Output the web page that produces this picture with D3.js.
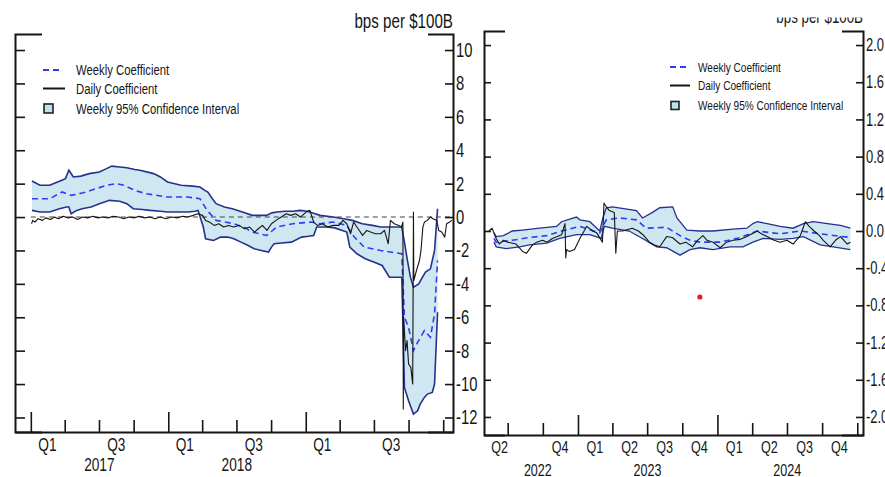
<!DOCTYPE html>
<html>
<head>
<meta charset="utf-8">
<script src="https://cdn.jsdelivr.net/npm/d3@7"></script>
<style>
body{margin:0;background:#fff}
svg{display:block;font-family:"Liberation Sans",Arial,sans-serif}
</style>
</head>
<body>
<div id="chart"></div>
<script>
// ---------- left panel data (2017-2019) ----------
const ciHiL = [
["2017-01-04",2.16],["2017-01-25",1.9],["2017-02-20",1.9],["2017-03-18",2.15],["2017-04-03",2.3],
["2017-04-12",2.8],["2017-04-24",2.4],["2017-05-14",2.45],["2017-06-05",2.6],["2017-07-02",2.7],
["2017-07-21",2.9],["2017-08-04",3.05],["2017-08-25",3.0],["2017-09-13",2.95],["2017-10-04",2.85],
["2017-10-18",2.8],["2017-11-23",2.6],["2017-12-11",2.4],["2017-12-30",2.1],["2018-02-04",1.9],
["2018-03-07",1.85],["2018-03-26",1.8],["2018-04-08",1.6],["2018-04-16",1.5],["2018-04-28",1.1],
["2018-05-08",0.8],["2018-05-30",0.6],["2018-06-20",0.5],["2018-07-17",0.3],["2018-08-12",0.1],
["2018-09-19",0.1],["2018-10-03",0.25],["2018-10-16",0.3],["2018-11-07",0.35],["2018-11-28",0.35],
["2018-12-17",0.4],["2019-01-05",0.35],["2019-01-26",0.2],["2019-02-08",0.1],["2019-03-15",0.0],
["2019-04-11",-0.1],["2019-05-05",-0.2],["2019-05-31",-0.4],["2019-06-27",-0.5],["2019-07-19",-0.6],
["2019-09-13",-0.6],["2019-09-20",-1.5],["2019-09-28",-2.6],["2019-10-06",-3.6],["2019-10-14",-4.2],
["2019-10-28",-4.0],["2019-11-07",-3.6],["2019-11-15",-3.3],["2019-11-28",-3.1],["2019-12-09",-2.0],
["2019-12-17",0.5]
]
const ciLoL = [
["2017-01-04",0.4],["2017-01-25",0.3],["2017-02-20",0.3],["2017-03-18",0.5],["2017-04-06",0.6],
["2017-04-12",0.6],["2017-04-18",0.2],["2017-05-03",0.4],["2017-05-17",0.5],["2017-06-10",0.6],
["2017-07-02",0.8],["2017-07-29",1.0],["2017-08-25",0.95],["2017-09-13",0.8],["2017-09-30",0.5],
["2017-10-24",0.45],["2017-11-14",0.4],["2017-12-11",0.35],["2017-12-30",0.3],["2018-01-21",0.3],
["2018-02-22",0.3],["2018-03-13",0.35],["2018-03-21",0.4],["2018-04-04",-0.6],["2018-04-10",-1.3],
["2018-05-01",-1.4],["2018-05-20",-1.2],["2018-06-08",-1.2],["2018-06-24",-1.3],["2018-07-13",-1.5],
["2018-08-01",-1.7],["2018-08-17",-1.9],["2018-09-05",-2.0],["2018-09-24",-2.1],["2018-10-02",-1.8],
["2018-10-09",-1.6],["2018-10-28",-1.55],["2018-11-24",-1.5],["2018-12-21",-1.2],["2019-01-08",-1.15],
["2019-01-22",-1.1],["2019-01-30",-0.6],["2019-02-26",-0.6],["2019-03-19",-0.65],["2019-04-20",-0.9],
["2019-04-28",-1.8],["2019-05-17",-2.2],["2019-06-08",-2.5],["2019-07-02",-2.7],["2019-07-23",-2.9],
["2019-08-11",-3.6],["2019-09-13",-3.6],["2019-09-20",-10.2],["2019-10-01",-11.0],["2019-10-14",-11.8],
["2019-10-25",-11.6],["2019-11-01",-11.2],["2019-11-12",-10.8],["2019-11-20",-10.6],["2019-12-03",-10.5],
["2019-12-09",-10.0],["2019-12-17",-5.7]
]
const weeklyL = [
["2017-01-04",1.1],["2017-02-20",1.1],["2017-03-25",1.5],["2017-04-18",1.3],["2017-05-20",1.45],
["2017-06-10",1.6],["2017-07-21",1.9],["2017-08-15",2.0],["2017-09-05",1.9],["2017-10-04",1.6],
["2017-11-03",1.4],["2017-12-30",1.2],["2018-02-20",1.2],["2018-03-26",1.1],["2018-04-14",0.4],
["2018-05-08",-0.2],["2018-06-24",-0.4],["2018-07-20",-0.6],["2018-08-12",-0.9],["2018-09-19",-1.1],
["2018-10-16",-0.6],["2018-11-28",-0.4],["2019-01-15",-0.3],["2019-02-08",-0.4],["2019-03-15",-0.3],
["2019-04-20",-0.5],["2019-05-10",-1.2],["2019-06-05",-1.8],["2019-07-19",-2.0],["2019-09-13",-2.2],
["2019-09-20",-6.0],["2019-10-01",-6.6],["2019-10-14",-8.0],["2019-10-25",-7.5],["2019-11-12",-6.8],
["2019-11-28",-7.2],["2019-12-09",-5.8],["2019-12-17",-2.6]
]
const dailyL = [
["2017-01-03",-0.4],["2017-01-06",-0.2],["2017-01-12",-0.3],["2017-01-20",-0.1],["2017-02-01",-0.2],
["2017-02-10",-0.05],["2017-02-22",-0.15],["2017-03-05",0.0],["2017-03-15",-0.1],["2017-03-28",0.05],
["2017-04-10",-0.05],["2017-04-22",0.0],["2017-05-05",-0.15],["2017-05-18",0.0],["2017-06-01",-0.05],
["2017-06-15",0.05],["2017-06-28",-0.05],["2017-07-10",0.0],["2017-07-25",-0.05],["2017-08-08",0.05],
["2017-08-22",0.0],["2017-09-05",-0.1],["2017-09-18",0.0],["2017-10-02",-0.05],["2017-10-16",0.05],
["2017-10-30",-0.05],["2017-11-13",0.0],["2017-11-27",-0.1],["2017-12-11",0.0],["2017-12-26",-0.1],
["2018-01-10",0.0],["2018-01-25",-0.05],["2018-02-08",0.05],["2018-02-22",0.0],["2018-03-08",0.1],
["2018-03-20",0.2],["2018-04-02",0.1],["2018-04-10",-0.2],["2018-04-20",-0.3],["2018-05-03",-0.5],
["2018-05-15",-0.4],["2018-05-28",-0.6],["2018-06-10",-0.5],["2018-06-24",-0.6],["2018-07-08",-0.5],
["2018-07-22",-0.7],["2018-08-05",-0.6],["2018-08-18",-0.9],["2018-08-28",-0.7],["2018-09-08",-0.5],
["2018-09-20",-0.8],["2018-10-02",-0.4],["2018-10-14",-0.2],["2018-10-28",0.0],["2018-11-10",0.2],
["2018-11-22",0.1],["2018-12-05",0.2],["2018-12-18",0.0],["2019-01-02",0.3],["2019-01-12",0.4],
["2019-01-22",-0.3],["2019-02-01",-0.5],["2019-02-14",-0.4],["2019-02-28",-0.6],["2019-03-15",-0.5],
["2019-03-30",-0.5],["2019-04-10",-0.2],["2019-04-20",-0.4],["2019-04-30",-1.0],["2019-05-08",-0.3],
["2019-05-20",-0.7],["2019-06-01",-1.1],["2019-06-12",-0.8],["2019-06-22",-0.9],["2019-07-05",-1.0],
["2019-07-19",-1.0],["2019-07-29",-0.8],["2019-08-08",-1.6],["2019-08-14",-0.2],["2019-08-24",-0.4],
["2019-09-05",-0.5],["2019-09-12",-0.6],["2019-09-16",-0.3],["2019-09-17",-11.5],["2019-09-18",-6.0],
["2019-09-23",-8.0],["2019-09-27",-7.4],["2019-10-01",-8.8],["2019-10-07",-9.0],["2019-10-12",-10.0],
["2019-10-14",0.3],["2019-10-15",-3.8],["2019-10-22",-3.2],["2019-10-30",-2.6],["2019-11-03",-2.0],
["2019-11-08",-0.6],["2019-11-12",-0.3],["2019-11-20",-0.2],["2019-11-28",0.0],["2019-12-05",-0.1],
["2019-12-15",-0.2],["2019-12-20",-0.8],["2019-12-28",-0.9],["2020-01-05",-1.2],["2020-01-10",-0.4],
["2020-01-18",-0.3],["2020-01-24",-0.2]
]

// ---------- right panel data (2022-2024) ----------
const ciHiR = [
["2022-05-26",-0.02],["2022-06-01",-0.06],["2022-06-20",-0.05],["2022-07-13",0.0],["2022-08-09",0.01],
["2022-09-22",0.03],["2022-11-06",0.05],["2022-11-19",0.1],["2022-12-28",0.15],["2023-01-06",0.12],
["2023-02-01",0.1],["2023-02-27",0.0],["2023-03-08",0.15],["2023-03-16",0.25],["2023-04-01",0.26],
["2023-06-03",0.22],["2023-06-19",0.14],["2023-07-15",0.2],["2023-08-03",0.25],["2023-09-06",0.26],
["2023-09-17",0.14],["2023-10-13",0.01],["2023-11-16",0.0],["2023-12-20",0.0],["2024-02-11",0.02],
["2024-03-18",0.03],["2024-04-03",0.08],["2024-04-14",0.1],["2024-05-10",0.08],["2024-06-13",0.05],
["2024-07-17",0.03],["2024-08-13",0.08],["2024-09-08",0.1],["2024-10-15",0.08],["2024-11-18",0.06],
["2024-12-14",0.03]
]
const ciLoR = [
["2022-05-26",-0.12],["2022-06-01",-0.17],["2022-06-27",-0.19],["2022-08-01",-0.17],["2022-08-27",-0.15],
["2022-10-11",-0.13],["2022-11-14",-0.08],["2022-12-28",-0.04],["2023-02-01",-0.04],["2023-03-03",-0.08],
["2023-03-11",0.05],["2023-04-01",0.03],["2023-05-15",0.0],["2023-06-19",-0.08],["2023-07-26",-0.17],
["2023-08-21",-0.18],["2023-09-25",-0.26],["2023-10-21",-0.2],["2023-11-16",-0.18],["2023-12-20",-0.2],
["2024-02-03",-0.17],["2024-03-08",-0.17],["2024-04-03",-0.12],["2024-04-30",-0.08],["2024-06-13",-0.09],
["2024-07-17",-0.08],["2024-08-13",-0.06],["2024-09-26",-0.15],["2024-10-30",-0.17],["2024-12-14",-0.2]
]
const weeklyR = [
["2022-05-26",-0.08],["2022-06-01",-0.12],["2022-07-13",-0.1],["2022-08-27",-0.07],["2022-10-11",-0.05],
["2022-11-19",0.0],["2023-01-06",0.05],["2023-02-27",-0.02],["2023-03-16",0.12],["2023-04-19",0.14],
["2023-06-03",0.12],["2023-06-29",0.03],["2023-08-21",0.04],["2023-09-25",-0.05],["2023-10-21",-0.1],
["2023-11-16",-0.12],["2024-01-08",-0.12],["2024-03-01",-0.07],["2024-04-14",0.0],["2024-06-13",-0.03],
["2024-08-05",0.0],["2024-09-26",-0.03],["2024-12-14",-0.07]
]
const dailyR = [
["2022-05-13",0.0],["2022-05-21",0.03],["2022-06-01",-0.08],["2022-06-09",-0.14],["2022-06-20",-0.1],
["2022-07-01",-0.12],["2022-07-23",-0.14],["2022-08-09",-0.22],["2022-08-19",-0.24],["2022-09-04",-0.15],
["2022-09-15",-0.12],["2022-09-30",-0.1],["2022-10-12",-0.12],["2022-10-26",-0.08],["2022-11-08",-0.06],
["2022-11-19",-0.04],["2022-11-28",0.08],["2022-11-30",-0.29],["2022-12-02",-0.2],["2022-12-10",-0.22],
["2022-12-23",-0.2],["2023-01-06",-0.08],["2023-01-24",0.05],["2023-02-08",0.0],["2023-02-19",-0.02],
["2023-03-06",-0.12],["2023-03-10",0.3],["2023-03-13",0.28],["2023-03-24",0.22],["2023-04-06",0.2],
["2023-04-10",-0.24],["2023-04-14",0.0],["2023-04-28",0.0],["2023-05-23",0.03],["2023-06-08",0.0],
["2023-06-20",-0.04],["2023-07-07",-0.12],["2023-07-20",-0.15],["2023-08-03",-0.17],["2023-08-21",-0.06],
["2023-09-05",-0.07],["2023-09-25",-0.14],["2023-10-10",-0.12],["2023-10-28",-0.17],["2023-11-10",-0.1],
["2023-11-24",-0.05],["2023-12-05",-0.1],["2023-12-20",-0.12],["2024-01-08",-0.18],["2024-01-25",-0.12],
["2024-02-11",-0.1],["2024-03-01",-0.09],["2024-03-18",-0.06],["2024-04-14",0.0],["2024-04-25",-0.03],
["2024-05-10",-0.06],["2024-05-28",-0.1],["2024-06-13",-0.12],["2024-07-01",-0.1],["2024-07-17",-0.14],
["2024-08-05",-0.05],["2024-08-18",0.1],["2024-08-28",0.05],["2024-09-10",0.0],["2024-09-24",-0.05],
["2024-10-04",-0.1],["2024-10-22",-0.17],["2024-11-05",-0.1],["2024-11-18",-0.06],["2024-12-06",-0.14],
["2024-12-14",-0.12]
]
const outlierR = [["2023-11-16",-0.71]]

// ---------- axes / labels ----------
const yTicksL = [-12,-10,-8,-6,-4,-2,0,2,4,6,8,10]
const yTicksR = [-2.0,-1.6,-1.2,-0.8,-0.4,0.0,0.4,0.8,1.2,1.6,2.0]
const qTicksL = ["2017-01-01","2017-04-01","2017-07-01","2017-10-01","2018-01-01","2018-04-01","2018-07-01",
  "2018-10-01","2019-01-01","2019-04-01","2019-07-01","2019-10-01","2020-01-01"]
const yearTicksL = ["2017-01-01","2018-01-01","2019-01-01"]
const qLabelsL = [["2017-02-14","Q1"],["2017-08-16","Q3"],["2018-02-14","Q1"],["2018-08-16","Q3"],["2019-02-14","Q1"],["2019-08-16","Q3"]]
const yrLabelsL = [["2017-07-02","2017"],["2018-07-02","2018"]]
const qTicksR = ["2022-07-01","2022-10-01","2023-01-01","2023-04-01","2023-07-01","2023-10-01","2024-01-01",
  "2024-04-01","2024-07-01","2024-10-01","2025-01-01"]
const yearTicksR = ["2023-01-01","2024-01-01"]
const qLabelsR = [["2022-06-10","Q2"],["2022-11-15","Q4"],["2023-02-14","Q1"],["2023-05-16","Q2"],["2023-08-16","Q3"],
  ["2023-11-15","Q4"],["2024-02-14","Q1"],["2024-05-16","Q2"],["2024-08-16","Q3"],["2024-11-15","Q4"]]
const yrLabelsR = [["2022-09-18","2022"],["2023-07-02","2023"],["2024-07-02","2024"]]
const legendItems = ["Weekly Coefficient","Daily Coefficient","Weekly 95% Confidence Interval"]

const parse = d3.timeParse("%Y-%m-%d")
const bandFill = "#cfe7f1", bandEdge = "#27308c", weeklyColor = "#2f3cf5", ink = "#151515"
const SQ = 0.74   // narrow type: squeeze text horizontally

function squeeze(sel){
  sel.each(function(){
    const t = d3.select(this)
    const x = +t.attr("x") || 0
    t.attr("x", x/SQ).attr("transform", `scale(${SQ},1)`)
  })
}

const svg = d3.select("#chart").append("svg")
  .attr("width",885).attr("height",477)
svg.append("rect").attr("width",885).attr("height",477).attr("fill","#fff")

function drawPanel(p){
  const x = d3.scaleTime().domain(p.xDomain.map(parse)).range([p.left,p.right])
  const y = d3.scaleLinear().domain(p.yDomain).range([p.bottom,p.top])
  const g = svg.append("g")
  const line = d3.line().x(d=>x(parse(d[0]))).y(d=>y(d[1]))

  // confidence band
  g.append("path")
    .attr("d", line(p.hi.concat(p.lo.slice().reverse())) + "Z")
    .attr("fill",bandFill)
  ;[p.hi,p.lo].forEach(s=>{
    g.append("path").attr("d",line(s)).attr("fill","none")
      .attr("stroke",bandEdge).attr("stroke-width",p.edgeW)
  })

  // zero line
  if(p.zeroFrom){
    g.append("line")
      .attr("x1",x(parse(p.zeroFrom))).attr("x2",p.right)
      .attr("y1",y(0)).attr("y2",y(0))
      .attr("stroke","#444").attr("stroke-width",1.1).attr("stroke-dasharray","5,4")
  }

  // weekly coefficient
  g.append("path").attr("d",line(p.weekly)).attr("fill","none")
    .attr("stroke",weeklyColor).attr("stroke-width",1.6).attr("stroke-dasharray","6,4")

  // daily coefficient
  g.append("path").attr("d",line(p.daily)).attr("fill","none")
    .attr("stroke",ink).attr("stroke-width",1.1).attr("stroke-linejoin","round")

  if(p.points){
    g.selectAll(".pt").data(p.points).join("circle")
      .attr("cx",d=>x(parse(d[0]))).attr("cy",d=>y(d[1]))
      .attr("r",2.6).attr("fill","#e0201c")
  }

  // right axis with labels
  const ra = g.append("g").attr("transform",`translate(${p.right},0)`)
    .call(d3.axisRight(y).tickValues(p.yTicks).tickSizeInner(-p.rTick).tickSizeOuter(-p.cap)
      .tickPadding(3).tickFormat(p.fmt))
  // left frame
  const la = g.append("g").attr("transform",`translate(${p.left},0)`)
    .call(d3.axisLeft(y).tickValues(p.yTicks).tickSizeInner(-p.lTick).tickSizeOuter(-p.lcap)
      .tickFormat(""))
  // bottom frame
  const ba = g.append("g").attr("transform",`translate(0,${p.bottom})`)
    .call(d3.axisBottom(x).tickValues(p.qTicks.map(parse)).tickSizeInner(-12).tickSizeOuter(0)
      .tickFormat(""))
  ba.selectAll(".tick line")
    .attr("y2", d => p.yearTicks.includes(d3.timeFormat("%Y-%m-%d")(d)) ? -20 : -12)

  ;[ra,la,ba].forEach(a=>{
    a.attr("font-family",null)
    a.select(".domain").attr("stroke",ink).attr("stroke-width",2)
    a.selectAll(".tick line").attr("stroke",ink).attr("stroke-width",1.6)
  })
  ra.selectAll(".tick text").attr("fill",ink).attr("font-size",p.tickFont)
    .call(squeeze)

  // quarter / year labels
  g.selectAll(".ql").data(p.qLabels).join("text")
    .attr("x",d=>x(parse(d[0]))).attr("y",p.bottom+p.qY)
    .attr("text-anchor","middle").attr("font-size",p.labFont).attr("fill",ink)
    .text(d=>d[1]).call(squeeze)
  g.selectAll(".yl").data(p.yrLabels).join("text")
    .attr("x",d=>x(parse(d[0]))).attr("y",p.bottom+p.yrY)
    .attr("text-anchor","middle").attr("font-size",p.labFont).attr("fill",ink)
    .text(d=>d[1]).call(squeeze)

  // unit title
  const t = g.append("text")
    .attr("x",p.right).attr("y",p.titleY)
    .attr("text-anchor","end").attr("font-size",p.titleFont).attr("fill",ink)
    .text("bps per $100B").call(squeeze)
  if(p.titleClip){
    svg.append("clipPath").attr("id","tclip").append("rect")
      .attr("x",0).attr("y",p.titleClip).attr("width",2000).attr("height",30)
    t.attr("clip-path","url(#tclip)")
  }

  // legend
  const lg = g.append("g").attr("transform",`translate(${p.legX},${p.legY})`)
  const row = p.legRow
  lg.append("line").attr("x1",0).attr("x2",p.legSw).attr("y1",0).attr("y2",0)
    .attr("stroke",weeklyColor).attr("stroke-width",1.8).attr("stroke-dasharray","6,4")
  lg.append("line").attr("x1",0).attr("x2",p.legSw+2).attr("y1",row).attr("y2",row)
    .attr("stroke",ink).attr("stroke-width",2)
  lg.append("rect").attr("x",1).attr("y",2*row+row*0.08-p.box/2).attr("width",p.box).attr("height",p.box)
    .attr("fill","#bfe1ec").attr("stroke","#222").attr("stroke-width",1.6)
  lg.selectAll(".lt").data(legendItems).join("text")
    .attr("x",p.legTx).attr("y",(d,i)=>i*row + (i==2?row*0.08:0))
    .attr("dy","0.35em").attr("font-size",p.legFont).attr("fill",ink)
    .text(d=>d).call(squeeze)
}

drawPanel({
  left:15, right:453, top:34, bottom:432,
  xDomain:["2016-11-20","2020-01-27"], yDomain:[-12.87,10.96],
  hi:ciHiL, lo:ciLoL, weekly:weeklyL, daily:dailyL, zeroFrom:"2017-01-01", edgeW:1.6,
  yTicks:yTicksL, fmt:d=>String(d), rTick:8, cap:25, lTick:10, lcap:27, tickFont:20,
  qTicks:qTicksL, yearTicks:yearTicksL, qLabels:qLabelsL, yrLabels:yrLabelsL,
  labFont:18.5, qY:19, yrY:39,
  titleY:28, titleFont:20.5,
  legX:43, legY:70, legRow:18.5, legSw:20, legTx:33, box:9, legFont:15.3
})

drawPanel({
  left:484, right:863, top:31, bottom:435,
  xDomain:["2022-04-30","2025-01-16"], yDomain:[-2.194,2.151],
  hi:ciHiR, lo:ciLoR, weekly:weeklyR, daily:dailyR, points:outlierR, edgeW:1.3,
  yTicks:yTicksR, fmt:d=>d.toFixed(1), rTick:7, cap:21, lTick:7, lcap:21, tickFont:17.5,
  qTicks:qTicksR, yearTicks:yearTicksR, qLabels:qLabelsR, yrLabels:yrLabelsR,
  labFont:17, qY:18, yrY:41,
  titleY:23.5, titleFont:18, titleClip:17.5,
  legX:670, legY:67, legRow:18.5, legSw:18, legTx:28, box:8, legFont:13.6
})
</script>
</body>
</html>
